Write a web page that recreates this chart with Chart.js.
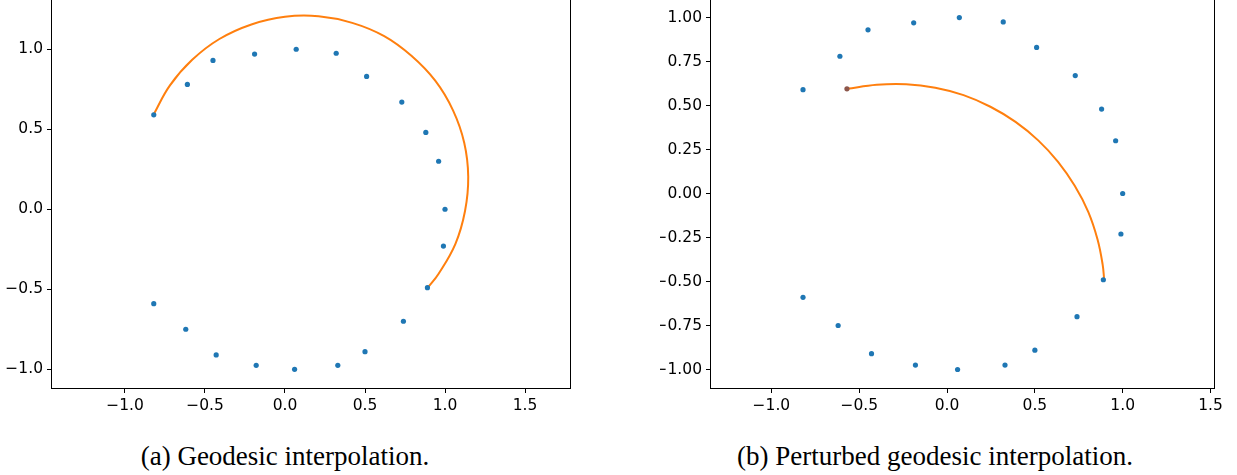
<!DOCTYPE html>
<html>
<head>
<meta charset="utf-8">
<script src="https://cdn.jsdelivr.net/npm/chart.js@4.4.1/dist/chart.umd.min.js"></script>
<style>
    body { margin: 0; background: #fff; width: 1237px; height: 475px; overflow: hidden; position: relative; }
    canvas { position: absolute; }
    .caption { position: absolute; font-family: "Liberation Serif", "DejaVu Serif", serif; font-size: 27px; line-height: 31px; color: #000; white-space: nowrap; transform: translateX(-50%); }
</style>
</head>
<body>
<canvas id="chartA" width="600" height="420" style="left:0px; top:-10px;"></canvas>
<canvas id="chartB" width="577" height="420" style="left:660px; top:-10px;"></canvas>
<div class="caption" style="left:285px; top:441px;">(a) Geodesic interpolation.</div>
<div class="caption" style="left:935px; top:441px;">(b) Perturbed geodesic interpolation.</div>
<script>
// sample points on the circle (same in both panels)
const pointsX = [-0.82, -0.61, -0.45, -0.19, 0.07, 0.32, 0.51, 0.73, 0.88, 0.96, 1.00, 0.99, 0.89, 0.74, 0.50, 0.33, 0.06, -0.18, -0.43, -0.62, -0.82];
const pointsY = [0.59, 0.78, 0.93, 0.97, 1.00, 0.975, 0.83, 0.67, 0.48, 0.30, 0.00, -0.23, -0.49, -0.70, -0.89, -0.975, -1.00, -0.975, -0.91, -0.75, -0.59];

// geodesic curve, panel (a)
const geodesicX = [-0.82, -0.72, -0.58, -0.41, -0.21, 0.00, 0.21, 0.42, 0.62, 0.79, 0.94, 1.05, 1.12, 1.145, 1.125, 1.065, 0.96, 0.89];
const geodesicY = [0.594, 0.773, 0.934, 1.064, 1.155, 1.203, 1.206, 1.165, 1.082, 0.959, 0.802, 0.618, 0.416, 0.203, -0.011, -0.216, -0.403, -0.493];

// perturbed geodesic curve, panel (b)
const perturbedX = [-0.57, -0.40, -0.233, -0.067, 0.094, 0.247, 0.39, 0.519, 0.632, 0.727, 0.804, 0.857, 0.886, 0.895];
const perturbedY = [0.595, 0.618, 0.621, 0.601, 0.559, 0.493, 0.407, 0.302, 0.18, 0.044, -0.104, -0.261, -0.404, -0.493];
const perturbedStartX = [-0.57];
const perturbedStartY = [0.595];

const xTicks = [-1.0, -0.5, 0.0, 0.5, 1.0, 1.5];
const yTicksA = [-1.0, -0.5, 0.0, 0.5, 1.0];
const yTicksB = [-1.0, -0.75, -0.5, -0.25, 0.0, 0.25, 0.5, 0.75, 1.0];

function toXY(xs, ys) {
    return xs.map((x, i) => ({x: x, y: ys[i]}));
}

const frame = {
    id: 'frame',
    afterDraw(chart) {
        const a = chart.chartArea;
        const ctx = chart.ctx;
        ctx.save();
        ctx.strokeStyle = '#000';
        ctx.lineWidth = 1;
        ctx.strokeRect(Math.round(a.left) - 0.5, Math.round(a.top) + 0.5, Math.round(a.right - a.left) + 1, Math.round(a.bottom - a.top));
        ctx.restore();
    }
};

function axis(min, max, ticks, digits, fit) {
    return {
        type: 'linear',
        min: min,
        max: max,
        afterBuildTicks: scale => { scale.ticks = ticks.map(v => ({value: v})); },
        afterFit: s => {
            fit(s);
            s.paddingTop = 0; s.paddingBottom = 0;
            s.paddingLeft = 0; s.paddingRight = 0;
        },
        grid: { drawOnChartArea: false, drawTicks: true, tickLength: 5, color: '#000', tickColor: '#000' },
        border: { display: false },
        ticks: {
            color: '#000',
            padding: 4,
            autoSkip: false,
            maxRotation: 0,
            font: { family: 'DejaVu Sans', size: 15.5 },
            callback: v => v.toFixed(digits).replace('-', '\u2212')
        }
    };
}

function drawPanel(id, datasets, xr, yr, yTicks, yDigits, yWidth, rightPad) {
    const ctx = document.getElementById(id).getContext('2d');
    new Chart(ctx, {
        type: 'scatter',
        data: { datasets: datasets },
        options: {
            responsive: false,
            animation: false,
            layout: { padding: { left: 0, top: 5, right: rightPad, bottom: 0 } },
            scales: {
                x: axis(xr[0], xr[1], xTicks, 1, s => { s.height = 22; }),
                y: axis(yr[0], yr[1], yTicks, yDigits, s => { s.width = yWidth; })
            },
            plugins: { legend: { display: false }, tooltip: { enabled: false } }
        },
        plugins: [frame]
    });
}

function bluePoints() {
    return {
        data: toXY(pointsX, pointsY),
        pointRadius: 2.6,
        pointBackgroundColor: '#1f77b4',
        pointBorderWidth: 0
    };
}

drawPanel('chartA', [
    bluePoints(),
    {
        data: toXY(geodesicX, geodesicY),
        showLine: true,
        tension: 0.4,
        borderColor: '#ff7f0e',
        borderWidth: 2,
        pointRadius: 0
    }
], [-1.456, 1.781], [-1.117, 1.339], yTicksA, 1, 52, 30);

drawPanel('chartB', [
    bluePoints(),
    {
        data: toXY(perturbedStartX, perturbedStartY),
        pointRadius: 2.6,
        pointBackgroundColor: '#8c564b',
        pointBorderWidth: 0
    },
    {
        data: toXY(perturbedX, perturbedY),
        showLine: true,
        tension: 0.4,
        borderColor: '#ff7f0e',
        borderWidth: 2,
        pointRadius: 0
    }
], [-1.344, 1.52], [-1.105, 1.128], yTicksB, 2, 51, 23);
</script>
</body>
</html>
